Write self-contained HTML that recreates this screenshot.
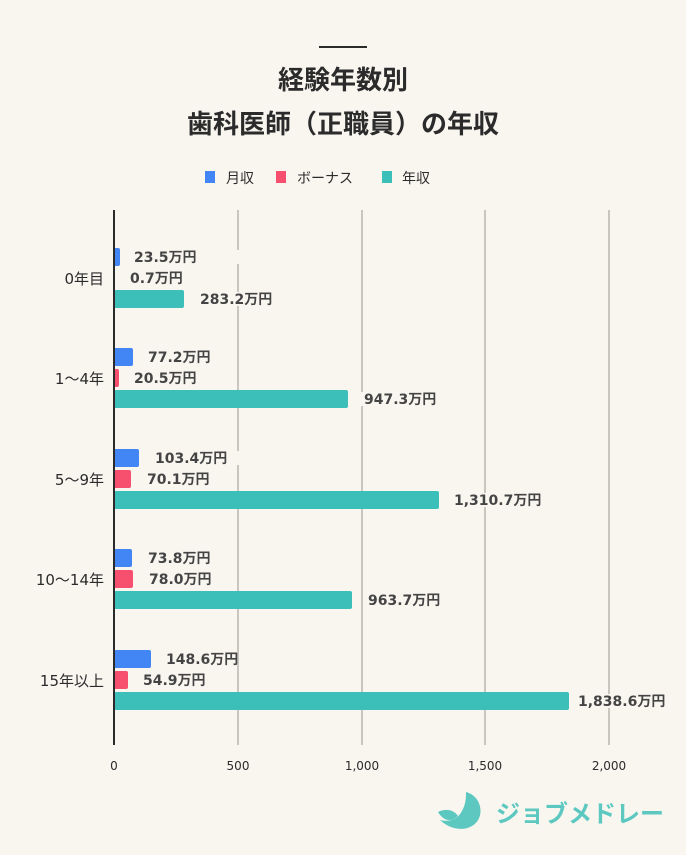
<!DOCTYPE html>
<html><head><meta charset="utf-8"><style>
html,body{margin:0;padding:0;background:#f9f6f0;}
svg text{font-family:"Liberation Sans","Noto Sans CJK JP",sans-serif;}
svg .dv text{font-family:"DejaVu Sans","Noto Sans CJK JP",sans-serif;}
</style></head><body>
<svg width="686" height="850" viewBox="0 0 686 850" xmlns="http://www.w3.org/2000/svg">
<rect width="686" height="850" fill="#f9f6f0"/>
<rect x="319" y="46" width="48" height="2" fill="#2b2b2b"/>
<text x="343" y="89" text-anchor="middle" font-size="26" font-weight="bold" fill="#2b2b2b">経験年数別</text>
<text x="343" y="133" text-anchor="middle" font-size="26" font-weight="bold" fill="#2b2b2b">歯科医師（正職員）の年収</text>
<rect x="205" y="171" width="10" height="12" fill="#4285f4"/>
<text x="226" y="183" font-size="14" fill="#2b2b2b">月収</text>
<rect x="276" y="171" width="10" height="12" fill="#f7506f"/>
<text x="297" y="183" font-size="14" fill="#2b2b2b">ボーナス</text>
<rect x="382" y="171" width="10" height="12" fill="#3bbfb8"/>
<text x="402" y="183" font-size="14" fill="#2b2b2b">年収</text>
<g stroke="#c9c6c0" stroke-width="2">
<line x1="238" y1="210" x2="238" y2="745"/><line x1="362" y1="210" x2="362" y2="745"/>
<line x1="485" y1="210" x2="485" y2="745"/><line x1="609" y1="210" x2="609" y2="745"/>
</g>
<g class="dv" font-size="12" fill="#2b2b2b" text-anchor="middle">
<text x="114" y="770">0</text><text x="238" y="770">500</text><text x="362" y="770">1,000</text><text x="485" y="770">1,500</text><text x="609" y="770">2,000</text>
</g>
<g class="dv" font-size="15" fill="#2b2b2b" text-anchor="end">
<text x="104" y="284">0年目</text><text x="104" y="384">1～4年</text><text x="104" y="485">5～9年</text><text x="104" y="585">10～14年</text><text x="104" y="686">15年以上</text>
</g>
<g class="dv" font-size="14" font-weight="bold" fill="#444">
<rect x="114" y="248" width="6" height="18" rx="2" fill="#4285f4"/>
<rect x="114" y="290" width="70" height="18" rx="2" fill="#3bbfb8"/>
<rect x="130" y="250" width="115" height="14" fill="#f9f6f0"/><rect x="195" y="292" width="95" height="14" fill="#f9f6f0"/>
<text x="134" y="262">23.5万円</text><text x="130" y="283">0.7万円</text><text x="200" y="304">283.2万円</text>
<rect x="114" y="348" width="19" height="18" rx="2" fill="#4285f4"/>
<rect x="114" y="369" width="5" height="18" rx="2" fill="#f7506f"/>
<rect x="114" y="390" width="234" height="18" rx="2" fill="#3bbfb8"/>
<rect x="360" y="392" width="95" height="14" fill="#f9f6f0"/>
<text x="148" y="362">77.2万円</text><text x="134" y="383">20.5万円</text><text x="364" y="404">947.3万円</text>
<rect x="114" y="449" width="25" height="18" rx="2" fill="#4285f4"/>
<rect x="114" y="470" width="17" height="18" rx="2" fill="#f7506f"/>
<rect x="114" y="491" width="325" height="18" rx="2" fill="#3bbfb8"/>
<rect x="150" y="451" width="100" height="14" fill="#f9f6f0"/><rect x="450" y="493" width="110" height="14" fill="#f9f6f0"/>
<text x="155" y="463">103.4万円</text><text x="147" y="484">70.1万円</text><text x="454" y="505">1,310.7万円</text>
<rect x="114" y="549" width="18" height="18" rx="2" fill="#4285f4"/>
<rect x="114" y="570" width="19" height="18" rx="2" fill="#f7506f"/>
<rect x="114" y="591" width="238" height="18" rx="2" fill="#3bbfb8"/>
<rect x="364" y="593" width="95" height="14" fill="#f9f6f0"/>
<text x="148" y="563">73.8万円</text><text x="149" y="584">78.0万円</text><text x="368" y="605">963.7万円</text>
<rect x="114" y="650" width="37" height="18" rx="2" fill="#4285f4"/>
<rect x="114" y="671" width="14" height="18" rx="2" fill="#f7506f"/>
<rect x="114" y="692" width="455" height="18" rx="2" fill="#3bbfb8"/>
<rect x="575" y="694" width="108" height="14" fill="#f9f6f0"/>
<text x="166" y="664">148.6万円</text><text x="143" y="685">54.9万円</text><text x="578" y="706">1,838.6万円</text>
</g>
<line x1="114" y1="210" x2="114" y2="745" stroke="#2b2b2b" stroke-width="2"/>
<path d="M466 792 C482 796 486 818 472 826 C462 832 448 828 440 820 C448 822 456 820 460 814 C466 806 466 798 466 792 Z" fill="#5cc8c0"/>
<path d="M438 812 C446 808 454 810 458 816 C452 822 444 822 438 812 Z" fill="#5cc8c0"/>
<text x="496" y="822" font-size="24" font-weight="bold" fill="#5cc8c0">ジョブメドレー</text>
</svg>
</body></html>
